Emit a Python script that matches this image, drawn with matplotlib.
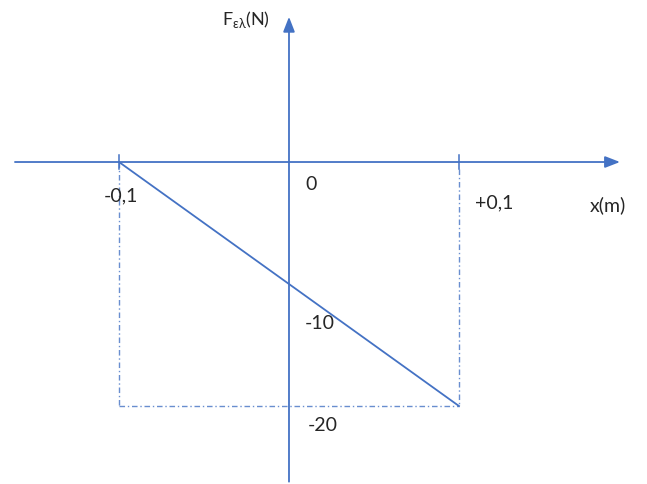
import matplotlib
matplotlib.use('Agg')
import matplotlib.pyplot as plt

# force F(x) of the spring between the two end positions
x_pos = [-0.1, 0.1]
force = [0, -20]

x_tick_labels = ["-0,1", "0", "+0,1"]
y_tick_labels = ["-10", "-20"]
x_title = "x(m)"
y_title = r"F$_{\mathregular{ελ}}$(N)"

blue = '#4472C4'
ink = '#262626'
W, H = 647, 485

plt.rcParams['font.family'] = ['Lato', 'DejaVu Sans']

fig = plt.figure(figsize=(W / 100, H / 100), dpi=100)
ax = fig.add_axes([0, 0, 1, 1])
ax.set_xlim(-0.17, 0.2106)
ax.set_ylim(-26.39, 13.36)
ax.axis('off')


def px(x, y):
    return x / W, 1 - y / H


arrow = dict(arrowstyle='-|>,head_length=0.9,head_width=0.35', color=blue,
             lw=1.3, shrinkA=0, shrinkB=0)
# axes with arrow heads
ax.annotate('', xy=(0.1947, 0), xytext=(-0.1612, 0), arrowprops=arrow)
ax.annotate('', xy=(0, 11.9), xytext=(0, -26.2), arrowprops=arrow)

# tick marks on the x axis
for xv in x_pos:
    ax.plot([xv, xv], [0.6, -0.6], color=blue, lw=1.1)

# the force line
ax.plot(x_pos, force, color=blue, lw=1.3)

# projection lines
dash = (0, (4, 2, 1, 2))
ax.plot([x_pos[0], x_pos[0]], [0, force[1]], color=blue, lw=1, ls=dash, alpha=0.8)
ax.plot([x_pos[1], x_pos[1]], [-0.6, force[1]], color=blue, lw=1, ls=dash, alpha=0.8)
ax.plot([x_pos[0], x_pos[1]], [force[1], force[1]], color=blue, lw=1, ls=dash, alpha=0.8)

fs = 14
fig.text(*px(104, 196), x_tick_labels[0], fontsize=fs, color=ink, va='center')
fig.text(*px(305, 185), x_tick_labels[1], fontsize=fs, color=ink, va='center')
fig.text(*px(475, 203), x_tick_labels[2], fontsize=fs, color=ink, va='center')
fig.text(*px(590, 205), x_title, fontsize=fs, color=ink, va='center')
fig.text(*px(305, 324), y_tick_labels[0], fontsize=fs, color=ink, va='center')
fig.text(*px(308, 426), y_tick_labels[1], fontsize=fs, color=ink, va='center')
fig.text(*px(222, 20), y_title, fontsize=13, color=ink, va='center')

fig.savefig('out.png', dpi=100)
